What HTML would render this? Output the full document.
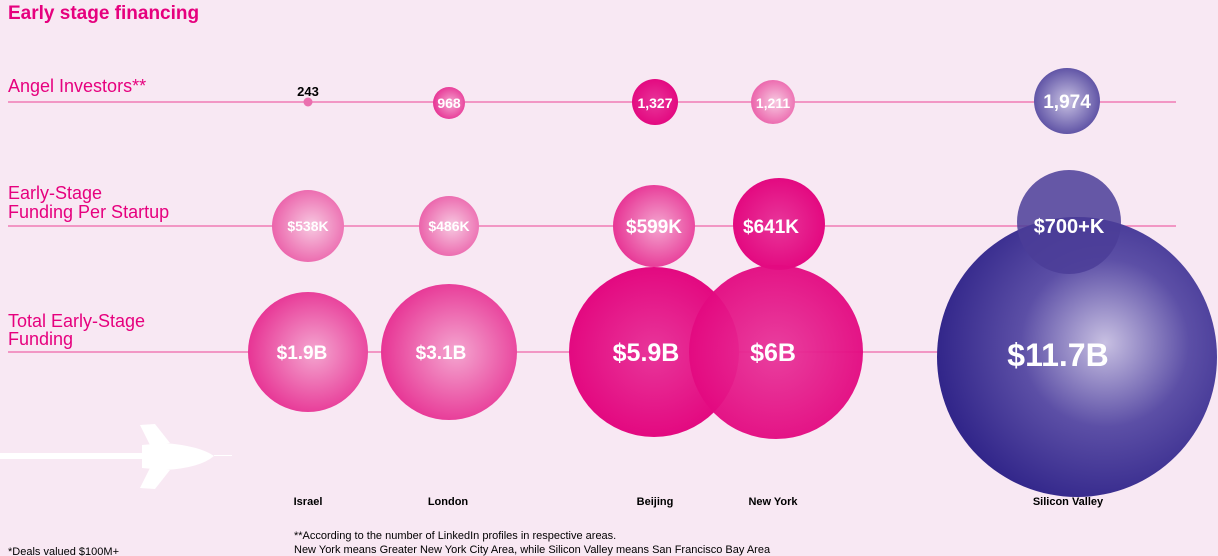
<!DOCTYPE html>
<html><head><style>
body{margin:0;background:#f8e8f3;}
svg{display:block;font-family:"Liberation Sans",sans-serif;}
</style></head><body>
<svg width="1218" height="556" viewBox="0 0 1218 556">
<defs>
<radialGradient id="p1" cx="0.55" cy="0.5" r="0.6"><stop offset="0" stop-color="#f7c9e1"/><stop offset="1" stop-color="#ea5aa6"/></radialGradient>
<radialGradient id="p2" cx="0.55" cy="0.5" r="0.6"><stop offset="0" stop-color="#f4a6d0"/><stop offset="1" stop-color="#e62a8f"/></radialGradient>
<radialGradient id="p3" cx="0.5" cy="0.5" r="0.6"><stop offset="0" stop-color="#e8369a"/><stop offset="1" stop-color="#e2007b"/></radialGradient>
<radialGradient id="pu" cx="0.6" cy="0.45" r="0.6"><stop offset="0" stop-color="#c8c0e2"/><stop offset="0.5" stop-color="#5c4fa6"/><stop offset="1" stop-color="#32268a"/></radialGradient>
<radialGradient id="pu2" cx="0.5" cy="0.5" r="0.6"><stop offset="0" stop-color="#c9c2e3"/><stop offset="1" stop-color="#4c3f9a"/></radialGradient>
</defs>
<text x="8" y="19" fill="#e6007e" font-size="19" font-weight="bold">Early stage financing</text>
<g stroke="#f07ab5" stroke-width="1.5">
<line x1="8" y1="102" x2="1176" y2="102"/>
<line x1="8" y1="226" x2="1176" y2="226"/>
<line x1="8" y1="352" x2="1176" y2="352"/>
</g>
<g fill="#e6007e" font-size="18">
<text x="8" y="92">Angel Investors**</text>
<text x="8" y="199">Early-Stage</text><text x="8" y="218">Funding Per Startup</text>
<text x="8" y="327">Total Early-Stage</text><text x="8" y="345">Funding</text>
</g>
<circle cx="308" cy="102" r="4.5" fill="#ea6fae"/>
<text x="308" y="96" text-anchor="middle" font-size="13" font-weight="bold">243</text>
<circle cx="449" cy="103" r="16" fill="url(#p2)"/>
<circle cx="655" cy="102" r="23" fill="url(#p3)"/>
<circle cx="773" cy="102" r="22" fill="url(#p1)"/>
<circle cx="1067" cy="101" r="33" fill="url(#pu2)"/>
<circle cx="308" cy="226" r="36" fill="url(#p1)"/>
<circle cx="449" cy="226" r="30" fill="url(#p1)"/>
<circle cx="654" cy="226" r="41" fill="url(#p2)"/>
<circle cx="779" cy="224" r="46" fill="url(#p3)"/>
<circle cx="308" cy="352" r="60" fill="url(#p2)"/>
<circle cx="449" cy="352" r="68" fill="url(#p2)"/>
<circle cx="654" cy="352" r="85" fill="url(#p3)"/>
<circle cx="776" cy="352" r="87" fill="url(#p3)" opacity="0.95"/>
<circle cx="1077" cy="357" r="140" fill="url(#pu)"/>
<circle cx="1069" cy="222" r="52" fill="#4b3d98" opacity="0.85"/>
<g fill="#fff" font-weight="bold" text-anchor="middle">
<text x="449" y="108" font-size="14">968</text>
<text x="655" y="108" font-size="14">1,327</text>
<text x="773" y="108" font-size="14">1,211</text>
<text x="1067" y="108" font-size="19">1,974</text>
<text x="308" y="231" font-size="14">$538K</text>
<text x="449" y="231" font-size="14">$486K</text>
<text x="654" y="233" font-size="19">$599K</text>
<text x="771" y="233" font-size="19">$641K</text>
<text x="1069" y="233" font-size="20">$700+K</text>
<text x="302" y="359" font-size="19">$1.9B</text>
<text x="441" y="359" font-size="19">$3.1B</text>
<text x="646" y="361" font-size="25">$5.9B</text>
<text x="773" y="361" font-size="25">$6B</text>
<text x="1058" y="366" font-size="32">$11.7B</text>
</g>
<g fill="#fff">
<rect x="0" y="453" width="150" height="6"/>
<path d="M142 445 L165 443 Q200 446 214 456 Q200 468 165 470 L142 468 Z"/>
<path d="M140 425 L155 424 L170 443 L150 445 Z"/>
<path d="M140 488 L155 489 L170 470 L150 468 Z"/>
<rect x="214" y="455" width="18" height="1"/>
</g>
<g font-size="11" font-weight="bold" text-anchor="middle">
<text x="308" y="505">Israel</text>
<text x="448" y="505">London</text>
<text x="655" y="505">Beijing</text>
<text x="773" y="505">New York</text>
<text x="1068" y="505">Silicon Valley</text>
</g>
<g font-size="11">
<text x="294" y="539">**According to the number of LinkedIn profiles in respective areas.</text>
<text x="294" y="553">New York means Greater New York City Area, while Silicon Valley means San Francisco Bay Area</text>
<text x="8" y="555">*Deals valued $100M+</text>
</g>
</svg>
</body></html>
